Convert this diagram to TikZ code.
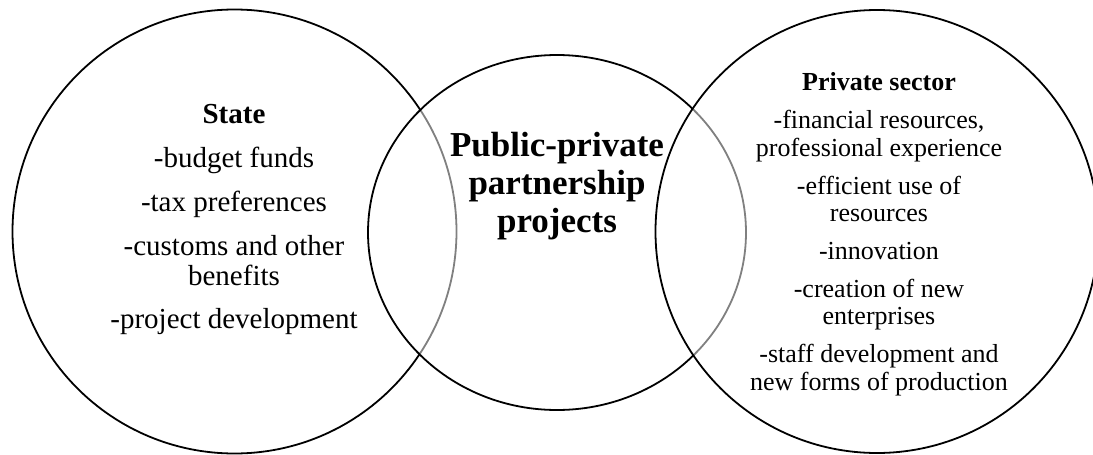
\documentclass[tikz,border=0pt]{standalone}
\usepackage{fontspec}
\setmainfont{Liberation Serif}
\begin{document}
\begin{tikzpicture}[x=1pt,y=-1pt,
  ring/.style={draw=black,line width=1.8pt},
  veil/.style={ring,fill=white,fill opacity=0.5,draw opacity=1},
  ltxt/.style={anchor=base,inner sep=0pt,font=\fontsize{29}{31}\selectfont},
  lhead/.style={ltxt,font=\fontsize{29}{31}\selectfont\bfseries},
  rtxt/.style={anchor=base,inner sep=0pt,font=\fontsize{26}{28}\selectfont},
  rhead/.style={rtxt,font=\fontsize{26}{28}\selectfont\bfseries},
  mtxt/.style={anchor=base,inner sep=0pt,font=\fontsize{35}{38}\selectfont\bfseries}]
\useasboundingbox (0,0) rectangle (1093,455);
\clip (0,0) rectangle (1093,455);
% circles
\draw[ring,fill=white] (234.5,231.5) circle[radius=222];
\draw[veil] (557,232.5) ellipse[x radius=189,y radius=177.5];
\draw[veil] (877,231.5) circle[radius=221.5];
% left text
\node[lhead] (s0) at (234,123) {State};
\node[ltxt] (s1) at (234,167) {-budget funds};
\node[ltxt] (s2) at (234,211) {-tax preferences};
\node[ltxt] (s3) at (234,255) {-customs and other};
\node[ltxt] (s4) at (234,285) {benefits};
\node[ltxt] (s5) at (234,328) {-project development};
% middle text
\node[mtxt] (m1) at (557,156) {Public-private};
\node[mtxt] (m2) at (557,194) {partnership};
\node[mtxt] (m3) at (557,232) {projects};
% right text
\node[rhead] (p0) at (879,90) {Private sector};
\node[rtxt] (p1) at (879,128) {-financial resources,};
\node[rtxt] (p2) at (879,156) {professional experience};
\node[rtxt] (p3) at (879,194) {-efficient use of};
\node[rtxt] (p4) at (879,221) {resources};
\node[rtxt] (p5) at (879,259) {-innovation};
\node[rtxt] (p6) at (879,297) {-creation of new};
\node[rtxt] (p7) at (879,324) {enterprises};
\node[rtxt] (p8) at (879,362) {-staff development and};
\node[rtxt] (p9) at (879,390) {new forms of production};
\end{tikzpicture}
\end{document}
